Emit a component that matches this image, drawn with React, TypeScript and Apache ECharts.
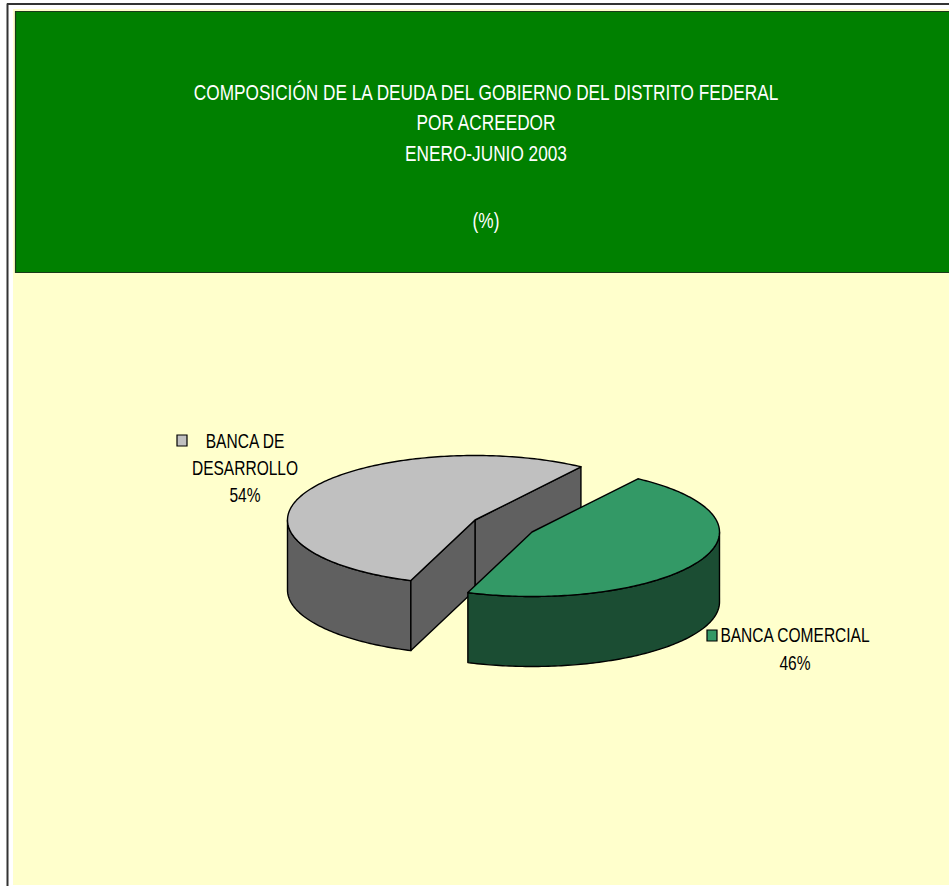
import React, { useEffect, useRef } from "react";
import * as echarts from "echarts";

const titleLines = [
  "COMPOSICIÓN DE LA DEUDA DEL GOBIERNO DEL DISTRITO FEDERAL",
  "POR ACREEDOR",
  "ENERO-JUNIO 2003",
  "(%)",
];
const categories = ["BANCA DE DESARROLLO", "BANCA COMERCIAL"];
const categoryLabelLines = [["BANCA DE", "DESARROLLO"], ["BANCA COMERCIAL"]];
const shares = [54, 46];

const topColors = ["#C0C0C0", "#339966"];
const sideColors = ["#606060", "#1B4D33"];
const sliceCenters = [[475, 520], [532, 532]];
const labelCenters = [[245, 441], [795, 635]];
const keyBoxes = [[177, 435], [707, 630]];
const labelSteps = [27, 28];

const RX = 187.5;
const RY = 64.5;
const DEPTH = 70;
const START_DEG = -55.6; // clockwise position where the green slice begins
const FONT = '"Liberation Sans", Arial, sans-serif';
const TEXT_SCALE = 0.784;
const LABEL_SCALE = 0.777;
const INK = "#000000";

const rim = (c: number[], deg: number, dy = 0) => {
  const t = (deg * Math.PI) / 180;
  return [c[0] + RX * Math.cos(t), c[1] + RY * Math.sin(t) + dy];
};

const arc = (c: number[], from: number, to: number, dy = 0) => {
  const out: number[][] = [];
  const n = Math.max(2, Math.ceil(Math.abs(to - from)));
  for (let i = 0; i <= n; i++) out.push(rim(c, from + ((to - from) * i) / n, dy));
  return out;
};

const poly = (points: number[][], fill: string) => ({
  type: "polygon",
  shape: { points },
  style: { fill, stroke: INK, lineWidth: 1.4, lineJoin: "round" },
});

const renderItem = (params: any, api: any) => {
  const i = params.dataIndex;
  const total = shares.reduce((a, b) => a + b, 0);
  const c = sliceCenters[i];
  const sweep = (api.value(0) / total) * 360;
  // The green slice runs clockwise from START_DEG, the grey one takes the rest.
  const from = i === 1 ? START_DEG : START_DEG + (shares[1] / total) * 360;
  const to = from + sweep;
  const children: any[] = [];
  const side = sideColors[i];

  // Outer wall: only the near half of the ellipse (0..180 degrees) shows.
  const wallFrom = Math.max(from, 0);
  const wallTo = Math.min(to, 180);
  if (wallTo > wallFrom) {
    children.push(
      poly([...arc(c, wallFrom, wallTo), ...arc(c, wallTo, wallFrom, DEPTH)], side)
    );
  }
  // Cut faces of the grey slice face the gap between the slices.
  if (i === 0) {
    const a = rim(c, from);
    const b = rim(c, to);
    children.push(
      poly([c, b, [b[0], b[1] + DEPTH], [c[0], c[1] + DEPTH]], side),
      poly([c, a, [a[0], a[1] + DEPTH], [c[0], c[1] + DEPTH]], side)
    );
  }
  children.push(poly([c, ...arc(c, from, to)], topColors[i]));

  // Key box and label
  const k = keyBoxes[i];
  children.push({
    type: "rect",
    shape: { x: k[0], y: k[1], width: 10, height: 11 },
    style: { fill: topColors[i], stroke: INK, lineWidth: 1.2 },
  });
  const lines = [...categoryLabelLines[i], `${api.value(0)}%`];
  const l = labelCenters[i];
  lines.forEach((line, j) => {
    children.push({
      type: "text",
      x: l[0],
      y: l[1] + j * labelSteps[i],
      scaleX: LABEL_SCALE,
      style: {
        text: line,
        fill: "#000000",
        font: `20px ${FONT}`,
        align: "center",
        verticalAlign: "middle",
      },
    });
  });
  return { type: "group", children };
};

const titleYs = [92, 122, 153, 220];

export default function App() {
  const ref = useRef<HTMLDivElement>(null);
  useEffect(() => {
    document.body.style.margin = "0";
    document.body.style.overflow = "hidden";
    const chart = echarts.init(ref.current!, undefined, { renderer: "svg" });
    chart.setOption({
      animation: false,
      backgroundColor: "#FFFFFF",
      graphic: [
        { type: "rect", z: 0, shape: { x: 13, y: 9, width: 940, height: 876 }, style: { fill: "#FFFFCC" } },
        { type: "line", z: 1, shape: { x1: 7.5, y1: 3.5, x2: 7.5, y2: 886 }, style: { stroke: "#333333", lineWidth: 2 } },
        { type: "line", z: 1, shape: { x1: 7, y1: 4, x2: 949, y2: 4 }, style: { stroke: "#333333", lineWidth: 2 } },
        { type: "rect", z: 1, shape: { x: 15.5, y: 11.5, width: 940, height: 261 }, style: { fill: "#008000", stroke: "#1A3A1A", lineWidth: 1.2 } },
        ...titleLines.map((text, i) => ({
          type: "text",
          z: 2,
          x: 486,
          y: titleYs[i],
          scaleX: TEXT_SCALE,
          style: {
            text,
            fill: "#FFFFFF",
            font: `22px ${FONT}`,
            align: "center",
            verticalAlign: "middle",
          },
        })),
      ],
      series: [
        {
          type: "custom",
          coordinateSystem: "none",
          z: 5,
          renderItem,
          data: categories.map((name, i) => ({ name, value: [shares[i]] })),
        },
      ],
    });
    return () => chart.dispose();
  }, []);
  return <div ref={ref} style={{ width: 949, height: 886 }} />;
}
